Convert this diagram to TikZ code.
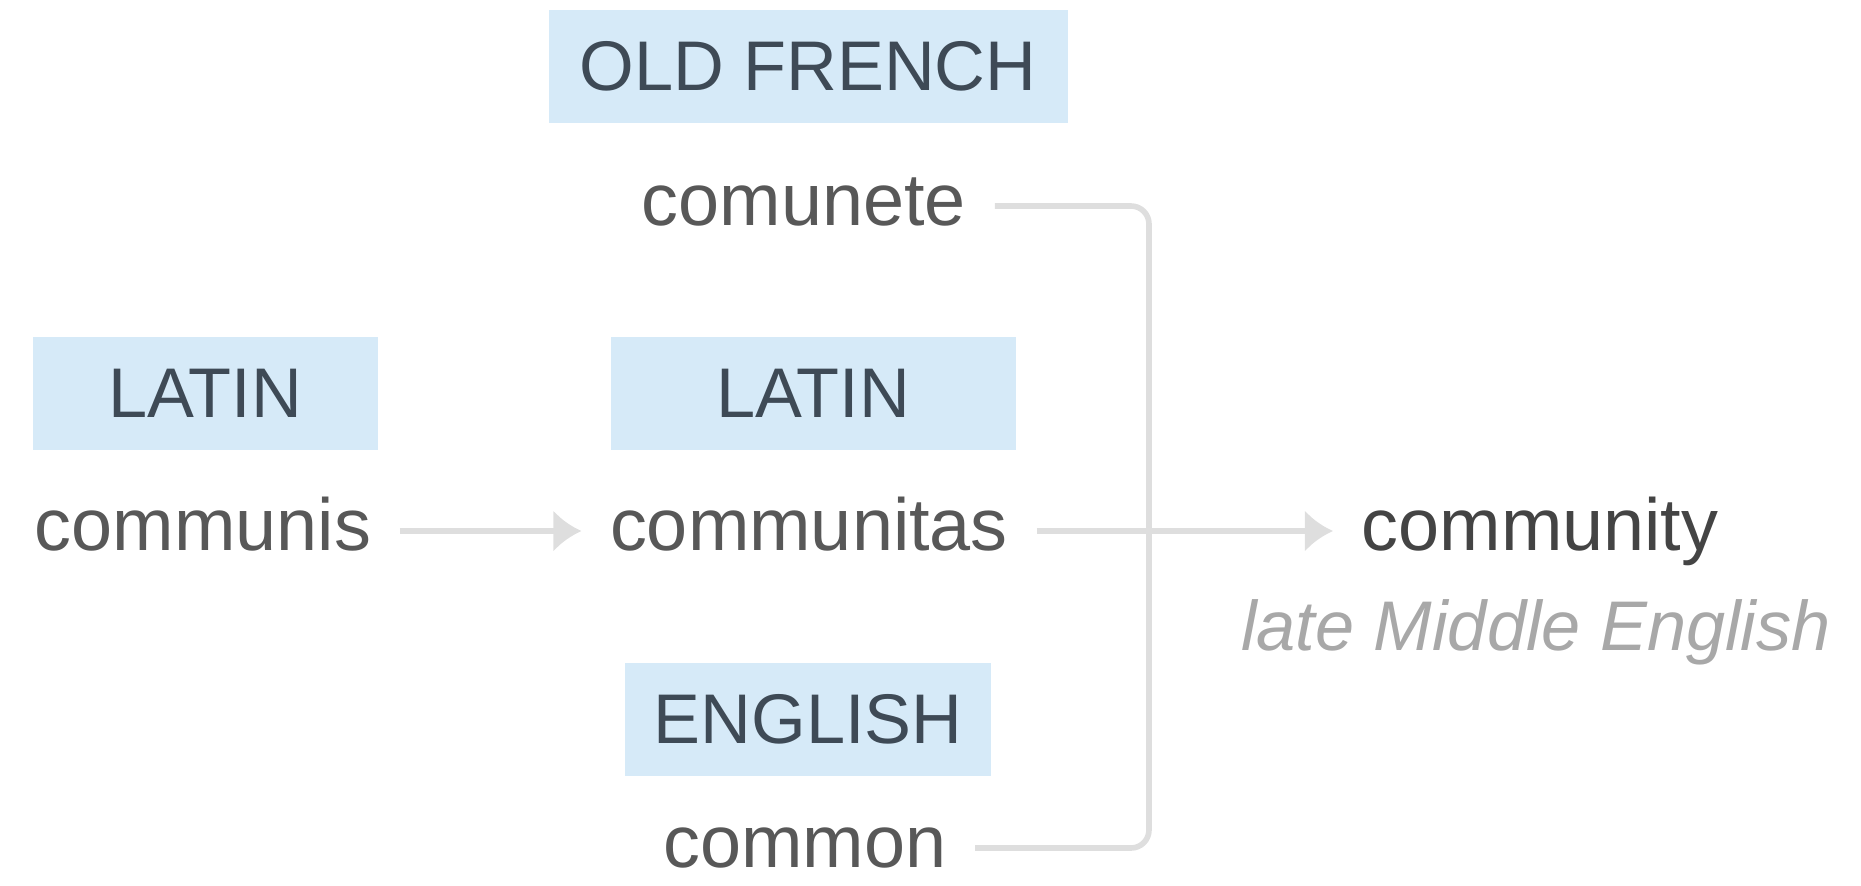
\documentclass[tikz,border=0pt]{standalone}
\usepackage{fontspec}
\setmainfont{Liberation Sans}
\usetikzlibrary{arrows.meta,positioning}
\definecolor{langfill}{RGB}{214,234,248}
\definecolor{langtext}{RGB}{62,74,86}
\definecolor{wordtext}{RGB}{88,88,88}
\definecolor{headword}{RGB}{68,68,68}
\definecolor{linkgray}{RGB}{222,222,222}
\definecolor{notegray}{RGB}{168,168,168}

\begin{document}
\begin{tikzpicture}[
    lang/.style={fill=langfill, text=langtext, minimum height=1.13cm, inner sep=0pt,
      font=\fontsize{20}{24}\selectfont},
    word/.style={text=wordtext, inner xsep=0.28cm, inner ysep=0pt, text height=10.9pt,
      text depth=0pt, font=\fontsize{21}{25}\selectfont},
    note/.style={text=notegray, inner sep=0pt, font=\fontsize{20}{24}\selectfont\itshape},
    link/.style={linkgray, line width=1.6pt, rounded corners=0.18cm},
    arr/.style={link, -{Latex[length=8pt,width=12pt]}}
  ]
    \useasboundingbox (0,0) rectangle (18.61,-8.85);
    % Language labels
    \node[lang, minimum width=5.19cm] (ofrench) at (8.08,-0.66) {OLD FRENCH};
    \node[lang, minimum width=3.45cm] (latinA) at (2.05,-3.93) {LATIN};
    \node[lang, minimum width=4.05cm] (latinB) at (8.13,-3.93) {LATIN};
    \node[lang, minimum width=3.66cm] (english) at (8.08,-7.19) {ENGLISH};
    % Word forms
    \node[word] (comunete) at (8.04,-2.06) {comunete};
    \node[word] (communis) at (2.03,-5.31) {communis};
    \node[word] (communitas) at (8.09,-5.31) {communitas};
    \node[word] (common) at (8.05,-8.48) {common};
    \node[word, text=headword] (community) at (15.40,-5.31) {community};
    \node[note, anchor=base] (period) at (15.36,-6.50) {late Middle English};
    % Connectors
    \coordinate (junction) at (11.49,-5.31);
    \draw[arr] (communis) -- (communitas);
    \draw[link] (comunete.east) -| (junction) |- (common.east);
    \draw[arr] (communitas) -- (community);
\end{tikzpicture}
\end{document}
